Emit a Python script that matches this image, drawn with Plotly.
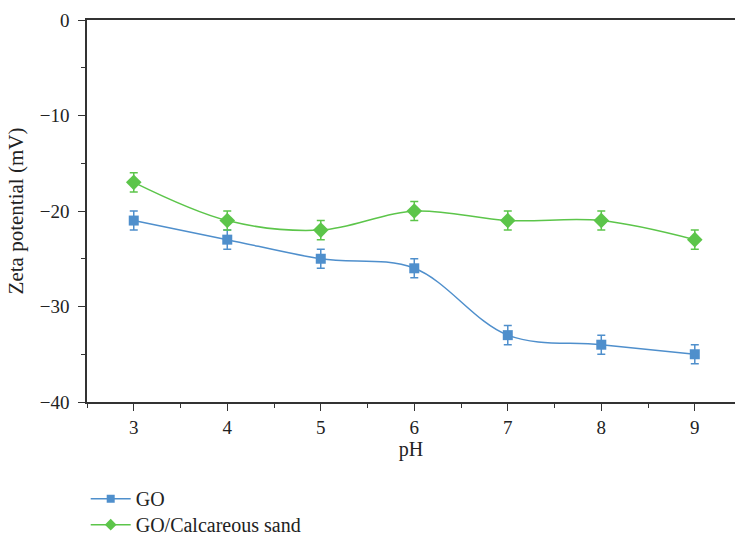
import plotly.graph_objects as go

ph = [3, 4, 5, 6, 7, 8, 9]
go_vals = [-21, -23, -25, -26, -33, -34, -35]
go_err = [1, 1, 1, 1, 1, 1, 1]
gcs_vals = [-17, -21, -22, -20, -21, -21, -23]
gcs_err = [1, 1, 1, 1, 1, 1, 1]

BLUE = "#4f8fcc"
GREEN = "#5cc54a"
FONT = "Liberation Serif"
TXT = "#222"

fig = go.Figure()
fig.add_trace(go.Scatter(
    x=ph, y=go_vals, name="GO", mode="lines+markers", showlegend=False,
    line=dict(color=BLUE, width=1.5, shape="spline", smoothing=1.0),
    marker=dict(symbol="square", size=10, color=BLUE),
    error_y=dict(type="data", array=go_err, visible=True, color=BLUE, thickness=1.5, width=4),
))
fig.add_trace(go.Scatter(
    x=ph, y=gcs_vals, name="GO/Calcareous sand", mode="lines+markers", showlegend=False,
    line=dict(color=GREEN, width=1.5, shape="spline", smoothing=1.0),
    marker=dict(symbol="diamond", size=12, color=GREEN),
    error_y=dict(type="data", array=gcs_err, visible=True, color=GREEN, thickness=1.5, width=4),
))
# legend entries with smaller symbols, as in the reference
fig.add_trace(go.Scatter(
    x=[None], y=[None], name="GO", mode="lines+markers", legend="legend",
    line=dict(color=BLUE, width=1.5), marker=dict(symbol="square", size=8, color=BLUE),
))
fig.add_trace(go.Scatter(
    x=[None], y=[None], name="GO/Calcareous sand", mode="lines+markers", legend="legend2",
    line=dict(color=GREEN, width=1.5), marker=dict(symbol="diamond", size=9, color=GREEN),
))

leg_common = dict(xanchor="left", yanchor="top",
                  font=dict(family=FONT, size=20, color=TXT),
                  bgcolor="rgba(0,0,0,0)", itemwidth=40)

fig.update_layout(
    width=735, height=536,
    margin=dict(l=87, r=0, t=20, b=134, autoexpand=False),
    plot_bgcolor="white", paper_bgcolor="white",
    font=dict(family=FONT, size=19, color=TXT),
    showlegend=True,
    legend=dict(x=-0.002, y=-0.202, **leg_common),
    legend2=dict(x=-0.002, y=-0.27, **leg_common),
)
fig.update_xaxes(
    range=[2.5, 9.43], dtick=1, tick0=3,
    showline=True, linecolor="#333", linewidth=1.5, mirror=True,
    ticks="outside", ticklen=7, tickwidth=1.3, tickcolor="#333",
    minor=dict(dtick=0.5, tick0=3, ticks="outside", ticklen=4, tickwidth=1.3, tickcolor="#333", showgrid=False),
    showgrid=False, zeroline=False,
    tickfont=dict(family=FONT, size=19, color=TXT),
    title=dict(text="pH", font=dict(family=FONT, size=20, color=TXT), standoff=2),
)
fig.update_yaxes(
    range=[-40, 0], dtick=10,
    showline=True, linecolor="#333", linewidth=1.5,
    ticks="outside", ticklen=7, tickwidth=1.3, tickcolor="#333",
    minor=dict(dtick=5, ticks="outside", ticklen=4, tickwidth=1.3, tickcolor="#333", showgrid=False),
    showgrid=False, zeroline=False, ticklabelstandoff=5,
    tickfont=dict(family=FONT, size=19, color=TXT),
    title=dict(text="Zeta potential (mV)", font=dict(family=FONT, size=21, color=TXT), standoff=10),
)

fig.write_html("out.html")
